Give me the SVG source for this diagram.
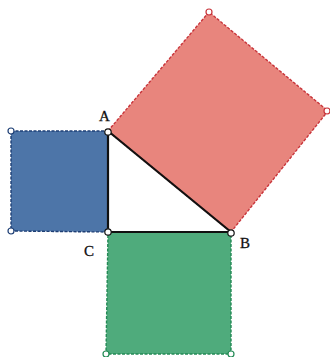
<svg xmlns="http://www.w3.org/2000/svg" width="330" height="357" viewBox="0 0 330 357">
<style>
.lbl{font-family:"Liberation Serif",serif;font-size:15px;fill:#111;stroke:#111;stroke-width:0.3}
.pt{fill:#fff;stroke-width:1.2}
</style>
<rect width="330" height="357" fill="#fff"/>
<g id="squareAB">
<polygon points="108,131 209,12 328,111 231,232" fill="#e8857d" stroke="#c8343a" stroke-width="1.4" stroke-dasharray="3,1.5"/>
<circle class="pt" cx="209" cy="12" r="3" stroke="#c8343a"/>
<circle class="pt" cx="327" cy="111" r="3" stroke="#c8343a"/>
</g>
<g id="squareAC">
<polygon points="11,131 108,131 108,232 11,231" fill="#4d75a8" stroke="#1e3f75" stroke-width="1.4" stroke-dasharray="3,1.5"/>
<circle class="pt" cx="11" cy="131" r="3" stroke="#1e3f75"/>
<circle class="pt" cx="11" cy="231" r="3" stroke="#1e3f75"/>
</g>
<g id="squareCB">
<polygon points="108,232 231,232 231,354 106,354" fill="#4fab7c" stroke="#238a55" stroke-width="1.4" stroke-dasharray="3,1.5"/>
<circle class="pt" cx="106" cy="354" r="3" stroke="#238a55"/>
<circle class="pt" cx="231" cy="354" r="3" stroke="#238a55"/>
</g>
<g id="connectors" stroke="#111" stroke-width="2.2" fill="none">
<line x1="108" y1="131" x2="108" y2="232"/>
<line x1="108" y1="232" x2="231" y2="232"/>
<line x1="108" y1="131" x2="231" y2="232"/>
</g>
<g id="A"><circle class="pt" cx="108" cy="132" r="3.2" stroke="#111"/><text class="lbl" x="99" y="121">A</text></g>
<g id="C"><circle class="pt" cx="108" cy="232" r="3.2" stroke="#111"/><text class="lbl" x="84" y="256">C</text></g>
<g id="B"><circle class="pt" cx="231" cy="233" r="3.2" stroke="#111"/><text class="lbl" x="240" y="248">B</text></g>
</svg>
